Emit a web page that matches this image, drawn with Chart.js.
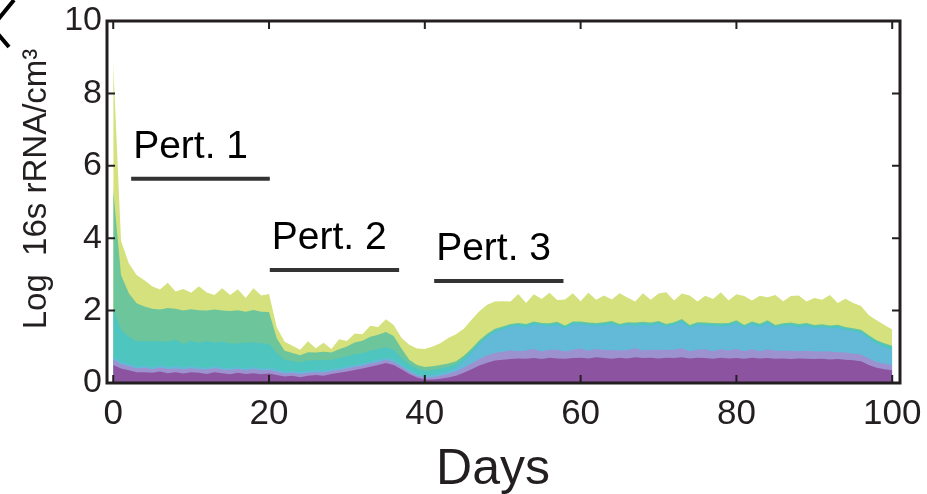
<!DOCTYPE html>
<html>
<head>
<meta charset="utf-8">
<script src="https://cdn.jsdelivr.net/npm/chart.js@4.4.0/dist/chart.umd.min.js"></script>
<style>
  html, body { margin: 0; padding: 0; background: #fff; }
  #wrap { width: 927px; height: 494px; position: relative; }
</style>
</head>
<body>
<div id="wrap"><canvas id="chart-days"></canvas></div>
<script>
// x axis: one sample per day
const days = Array.from({ length: 101 }, (v, i) => i);

// layer thicknesses (log 16s rRNA/cm3), bottom to top
const purple = [
    0.50,0.40,0.35,0.30,0.30,0.28,0.32,0.27,0.30,0.26,
    0.30,0.28,0.25,0.30,0.27,0.24,0.28,0.25,0.27,0.24,
    0.26,0.22,0.18,0.20,0.16,0.20,0.22,0.20,0.25,0.28,
    0.32,0.36,0.40,0.45,0.50,0.55,0.50,0.38,0.25,0.15,
    0.10,0.10,0.12,0.15,0.20,0.28,0.38,0.48,0.56,0.62,
    0.64,0.66,0.68,0.67,0.69,0.66,0.70,0.68,0.67,0.69,
    0.70,0.68,0.71,0.69,0.67,0.70,0.68,0.71,0.69,0.70,
    0.68,0.70,0.69,0.71,0.68,0.70,0.69,0.67,0.70,0.68,
    0.69,0.67,0.70,0.68,0.69,0.67,0.68,0.66,0.68,0.67,
    0.66,0.67,0.65,0.66,0.64,0.63,0.60,0.50,0.42,0.38,
    0.35
];
const lavender = [
    0.15,0.12,0.12,0.10,0.12,0.10,0.11,0.12,0.10,0.12,
    0.11,0.10,0.12,0.11,0.10,0.12,0.11,0.10,0.12,0.11,
    0.10,0.10,0.08,0.08,0.09,0.08,0.08,0.09,0.08,0.08,
    0.08,0.09,0.08,0.09,0.08,0.09,0.08,0.07,0.06,0.05,
    0.05,0.06,0.08,0.10,0.12,0.14,0.16,0.18,0.20,0.21,
    0.22,0.24,0.20,0.23,0.25,0.21,0.22,0.24,0.20,0.23,
    0.25,0.21,0.23,0.22,0.24,0.20,0.23,0.25,0.21,0.22,
    0.24,0.21,0.23,0.25,0.20,0.22,0.24,0.21,0.23,0.22,
    0.25,0.21,0.23,0.20,0.24,0.22,0.21,0.23,0.20,0.22,
    0.21,0.20,0.22,0.19,0.20,0.18,0.19,0.18,0.16,0.15,
    0.15
];
const blue = [
    0.08,0.06,0.06,0.05,0.06,0.05,0.06,0.05,0.06,0.05,
    0.06,0.05,0.06,0.05,0.06,0.05,0.06,0.05,0.06,0.05,
    0.06,0.06,0.06,0.05,0.06,0.05,0.06,0.05,0.06,0.05,
    0.06,0.05,0.06,0.05,0.06,0.05,0.06,0.05,0.05,0.05,
    0.05,0.06,0.07,0.08,0.10,0.18,0.28,0.40,0.50,0.58,
    0.62,0.66,0.70,0.64,0.68,0.72,0.65,0.69,0.63,0.70,
    0.67,0.71,0.64,0.68,0.72,0.66,0.69,0.63,0.70,0.67,
    0.71,0.65,0.68,0.72,0.64,0.69,0.66,0.70,0.63,0.68,
    0.71,0.65,0.69,0.67,0.72,0.64,0.68,0.70,0.66,0.69,
    0.65,0.68,0.64,0.67,0.63,0.62,0.60,0.55,0.50,0.46,
    0.42
];
const teal = [
    1.30,0.90,0.75,0.70,0.68,0.72,0.66,0.70,0.74,0.65,
    0.70,0.68,0.73,0.66,0.71,0.69,0.64,0.72,0.67,0.70,
    0.66,0.45,0.32,0.28,0.26,0.30,0.27,0.29,0.25,0.28,
    0.27,0.30,0.28,0.31,0.29,0.30,0.28,0.20,0.16,0.15,
    0.14,0.14,0.13,0.12,0.10,0.09,0.08,0.07,0.06,0.05,
    0.05,0.04,0.05,0.06,0.05,0.04,0.05,0.05,0.06,0.05,
    0.05,0.04,0.05,0.06,0.05,0.04,0.05,0.05,0.06,0.05,
    0.05,0.04,0.05,0.06,0.05,0.04,0.05,0.05,0.06,0.05,
    0.05,0.04,0.05,0.06,0.05,0.04,0.05,0.05,0.06,0.05,
    0.05,0.04,0.05,0.06,0.05,0.05,0.05,0.06,0.07,0.08,
    0.08
];
const green = [
    3.30,1.50,1.20,1.05,0.95,0.90,0.88,0.93,0.85,0.92,
    0.87,0.90,0.84,0.91,0.86,0.89,0.92,0.85,0.90,0.87,
    0.88,0.40,0.25,0.22,0.20,0.22,0.21,0.23,0.20,0.24,
    0.28,0.32,0.35,0.38,0.40,0.42,0.38,0.25,0.12,0.10,
    0.10,0.10,0.10,0.09,0.08,0.06,0.05,0.05,0.04,0.04,
    0.03,0.03,0.03,0.03,0.03,0.03,0.03,0.03,0.03,0.03,
    0.03,0.03,0.03,0.03,0.03,0.03,0.03,0.03,0.03,0.03,
    0.03,0.03,0.03,0.03,0.03,0.03,0.03,0.03,0.03,0.03,
    0.03,0.03,0.03,0.03,0.03,0.03,0.03,0.03,0.03,0.03,
    0.03,0.03,0.03,0.03,0.03,0.03,0.03,0.03,0.03,0.03,
    0.03
];
const yellow = [
    3.50,0.95,0.83,0.78,0.73,0.62,0.55,0.70,0.48,0.60,
    0.45,0.66,0.50,0.40,0.62,0.44,0.58,0.38,0.60,0.45,
    0.50,0.30,0.25,0.20,0.15,0.30,0.12,0.25,0.10,0.28,
    0.15,0.25,0.18,0.30,0.22,0.35,0.30,0.30,0.42,0.45,
    0.50,0.55,0.60,0.70,0.75,0.75,0.80,0.80,0.80,0.75,
    0.70,0.62,0.80,0.58,0.75,0.66,0.84,0.60,0.72,0.78,
    0.56,0.82,0.64,0.74,0.60,0.85,0.68,0.58,0.79,0.63,
    0.76,0.88,0.60,0.70,0.82,0.57,0.74,0.66,0.86,0.62,
    0.72,0.80,0.58,0.77,0.64,0.83,0.61,0.73,0.79,0.59,
    0.75,0.68,0.84,0.60,0.78,0.70,0.66,0.55,0.55,0.50,
    0.45
];

// perturbation periods (days) and the height of their bars
const pertLabels = ["Pert. 1", "Pert. 2", "Pert. 3"];
const pertStart = [2.3, 20.1, 41.2];
const pertEnd = [20.1, 36.7, 57.8];
const pertLevel = [5.64, 3.12, 2.82];

const xTicks = [0, 20, 40, 60, 80, 100];
const yTicks = [0, 2, 4, 6, 8, 10];

const layers = [
    { data: purple, color: '#8c54a0' },
    { data: lavender, color: '#9d92d0' },
    { data: blue, color: '#63b9d8' },
    { data: teal, color: '#4fc5bf' },
    { data: green, color: '#6dc59b' },
    { data: yellow, color: '#d4e17c' }
];

const areaSets = layers.map(l => ({
    data: l.data,
    backgroundColor: l.color,
    borderColor: l.color,
    borderWidth: 0,
    fill: 'origin',
    pointRadius: 0,
    tension: 0,
    stack: 'layers'
}));

const pertSets = pertLabels.map((name, i) => ({
    data: [{ x: pertStart[i], y: pertLevel[i] }, { x: pertEnd[i], y: pertLevel[i] }],
    borderColor: '#333333',
    borderWidth: 4,
    borderCapStyle: 'butt',
    fill: false,
    pointRadius: 0,
    stack: 'pert' + i,
    order: -1
}));

const ink = '#231f20';
const face = '"Liberation Sans", Arial, sans-serif';

const frameBox = {
    id: 'frameBox',
    afterDraw(chart) {
        const { ctx, chartArea: a, scales: { x, y } } = chart;
        ctx.save();
        ctx.strokeStyle = ink;
        ctx.lineWidth = 2;
        ctx.beginPath();
        x.ticks.forEach(t => {
            const px = x.getPixelForValue(t.value);
            ctx.moveTo(px, a.bottom); ctx.lineTo(px, a.bottom - 8);
            ctx.moveTo(px, a.top); ctx.lineTo(px, a.top + 8);
        });
        y.ticks.forEach(t => {
            const py = y.getPixelForValue(t.value);
            ctx.moveTo(a.left, py); ctx.lineTo(a.left + 8, py);
            ctx.moveTo(a.right, py); ctx.lineTo(a.right - 8, py);
        });
        ctx.stroke();
        ctx.lineWidth = 3;
        ctx.strokeRect(a.left, a.top, a.right - a.left, a.bottom - a.top);

        // perturbation labels sit just above their bars
        ctx.fillStyle = '#000';
        ctx.font = '39px ' + face;
        ctx.textAlign = 'left';
        ctx.textBaseline = 'alphabetic';
        pertLabels.forEach((name, i) => {
            ctx.fillText(name, x.getPixelForValue(pertStart[i]) + 2, y.getPixelForValue(pertLevel[i]) - 21);
        });

        // axis titles
        ctx.fillStyle = ink;
        ctx.font = '50px ' + face;
        ctx.textAlign = 'center';
        ctx.fillText('Days', 493, 484);
        ctx.save();
        ctx.translate(46, 189);
        ctx.rotate(-Math.PI / 2);
        ctx.font = '33px ' + face;
        ctx.fillText('Log  16s rRNA/cm³', 0, 0);
        ctx.restore();

        // cut-off mark in the corner
        ctx.strokeStyle = '#000';
        ctx.lineWidth = 4;
        ctx.beginPath();
        ctx.moveTo(-8, 27); ctx.lineTo(14, 0);
        ctx.moveTo(-8, 27); ctx.lineTo(9, 47);
        ctx.stroke();
        ctx.restore();
    }
};

const chartDaysGet = document.getElementById('chart-days');
const chartDaysRender = new Chart(chartDaysGet, {
    type: 'line',
    data: {
        labels: days,
        datasets: areaSets.concat(pertSets)
    },
    options: {
        responsive: true,
        maintainAspectRatio: false,
        animation: false,
        layout: { padding: { top: 21, right: 27, left: 0, bottom: 0 } },
        plugins: { legend: { display: false }, tooltip: { enabled: false } },
        scales: {
            x: {
                type: 'linear',
                min: -0.8,
                max: 101,
                grid: { display: false },
                border: { display: false },
                afterFit: s => { s.height = 111; },
                afterBuildTicks: s => { s.ticks = xTicks.map(v => ({ value: v })); },
                ticks: { color: ink, padding: 2, maxRotation: 0, font: { size: 35, family: face } }
            },
            y: {
                stacked: true,
                min: 0,
                max: 10,
                grid: { display: false },
                border: { display: false },
                afterFit: s => { s.width = 107; },
                afterBuildTicks: s => { s.ticks = yTicks.map(v => ({ value: v })); },
                ticks: { color: ink, padding: -3, font: { size: 34, family: face } }
            }
        }
    },
    plugins: [frameBox]
});
</script>
</body>
</html>
